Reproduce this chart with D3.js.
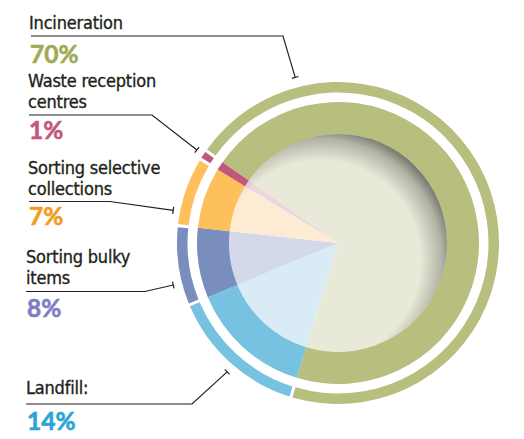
<!DOCTYPE html>
<html>
<head>
<meta charset="utf-8">
<script src="https://cdn.jsdelivr.net/npm/d3@7"></script>
<style>
  body { margin: 0; background: #fff; }
</style>
</head>
<body>
<div id="chart"></div>
<script>
// data (clockwise from the incineration slice)
const categories = ['Incineration', 'Landfill:', 'Sorting bulky items', 'Sorting selective collections', 'Waste reception centres'];
const shares = [70, 14, 8, 7, 1];
const shareLabels = ['70%', '14%', '8%', '7%', '1%'];
const titleLines = [['Incineration'], ['Landfill:'], ['Sorting bulky', 'items'], ['Sorting selective', 'collections'], ['Waste reception', 'centres']];

const ringColors = ['#b8be7e', '#77c1e1', '#7a8dbf', '#fdc05b', '#c0587a'];
const paleColors = ['#e8e9d8', '#d9ecf6', '#d4d9ea', '#fdecd3', '#ecd6dd'];
const textColors = ['#a1ab55', '#2aa5d6', '#7d7fc1', '#f29c23', '#c4587c'];

// label layout: text x, title baseline, underline y / x-end, percent baseline, leader end angle (deg) and radius
const labelLayout = [
  {x: 29, ty: 29, ly: 36, lx0: 31, lx1: 283, py: 63, ang: 345.5, rad: 171},
  {x: 26, ty: 394, ly: 404, lx0: 26, lx1: 192, py: 430, ang: 220.7, rad: 170},
  {x: 26, ty: 263, ly: 291.5, lx0: 26, lx1: 145, py: 317, ang: 255.7, rad: 170},
  {x: 28, ty: 174, ly: 201.5, lx0: 29, lx1: 110, py: 225, ang: 281.2, rad: 168},
  {x: 28, ty: 87, ly: 115, lx0: 29, lx1: 152, py: 139, ang: 303.4, rad: 169}
];

const width = 524;
const height = 439;
const cx = 338;
const cy = 243;

const svg = d3.select('#chart')
              .append('svg')
              .attr('width', width)
              .attr('height', height);

const defs = svg.append('defs');
const shade = defs.append('radialGradient')
                  .attr('id', 'shade')
                  .attr('cx', 0.42)
                  .attr('cy', 0.58)
                  .attr('r', 0.62);
shade.append('stop').attr('offset', '0.74').attr('stop-color', '#5e6058').attr('stop-opacity', 0);
shade.append('stop').attr('offset', '0.9').attr('stop-color', '#5e6058').attr('stop-opacity', 0.4);
shade.append('stop').attr('offset', '1').attr('stop-color', '#5e6058').attr('stop-opacity', 0.9);

const pie = d3.pie()
              .sort(null)
              .startAngle(-55 * Math.PI / 180)
              .endAngle(-55 * Math.PI / 180 + 2 * Math.PI);

const slices = pie(shares);

const chartGroup = svg.append('g')
                      .attr('transform', 'translate(' + cx + ',' + cy + ')');

const innerArc = d3.arc().innerRadius(0).outerRadius(109);
const ringArc = d3.arc().innerRadius(108.5).outerRadius(141);
const outerArc = d3.arc().innerRadius(150.5).outerRadius(161).padAngle(0.014);

chartGroup.selectAll('.ring')
          .data(slices)
          .enter().append('path')
            .attr('class', 'ring')
            .attr('fill', (d, i) => ringColors[i])
            .attr('d', ringArc);

chartGroup.selectAll('.outer')
          .data(slices)
          .enter().append('path')
            .attr('class', 'outer')
            .attr('fill', (d, i) => ringColors[i])
            .attr('d', outerArc);

chartGroup.selectAll('.inner')
          .data(slices)
          .enter().append('path')
            .attr('class', 'inner')
            .attr('fill', (d, i) => paleColors[i])
            .attr('d', innerArc);

chartGroup.append('circle')
          .attr('r', 109)
          .attr('fill', 'url(#shade)');

// labels
const labels = svg.selectAll('.label')
                  .data(categories)
                  .enter().append('g')
                    .attr('class', 'label');

labels.each(function(d, i) {
  const g = d3.select(this);
  const L = labelLayout[i];
  titleLines[i].forEach((t, k) => {
    g.append('text')
      .attr('x', L.x)
      .attr('y', L.ty + k * 21)
      .attr('font-family', '"DejaVu Sans Condensed", "Liberation Sans Narrow", sans-serif')
      .attr('font-stretch', 'condensed')
      .attr('font-size', 18)
      .attr('letter-spacing', -0.2)
      .attr('fill', '#231f20')
      .attr('stroke', '#231f20')
      .attr('stroke-width', 0.35)
      .text(t);
  });
  g.append('text')
    .attr('x', L.x + 1)
    .attr('y', L.py)
    .attr('font-family', 'Lato, "Open Sans", sans-serif')
    .attr('font-weight', 'bold')
    .attr('font-size', 24.5)
    .attr('fill', textColors[i])
    .attr('stroke', textColors[i])
    .attr('stroke-width', 0.6)
    .text(shareLabels[i]);

  const a = L.ang * Math.PI / 180;
  const ex = cx + L.rad * Math.sin(a);
  const ey = cy - L.rad * Math.cos(a);
  g.append('path')
    .attr('fill', 'none')
    .attr('stroke', '#231f20')
    .attr('stroke-width', 1.2)
    .attr('d', 'M' + L.lx0 + ',' + L.ly + 'L' + L.lx1 + ',' + L.ly + 'L' + ex + ',' + ey);
  // small tick across the line end
  const dx = ex - L.lx1;
  const dy = ey - L.ly;
  const len = Math.sqrt(dx * dx + dy * dy);
  const nx = -dy / len * 3.5;
  const ny = dx / len * 3.5;
  g.append('line')
    .attr('x1', ex - nx).attr('y1', ey - ny)
    .attr('x2', ex + nx).attr('y2', ey + ny)
    .attr('stroke', '#231f20')
    .attr('stroke-width', 1.2);
});
</script>
</body>
</html>
